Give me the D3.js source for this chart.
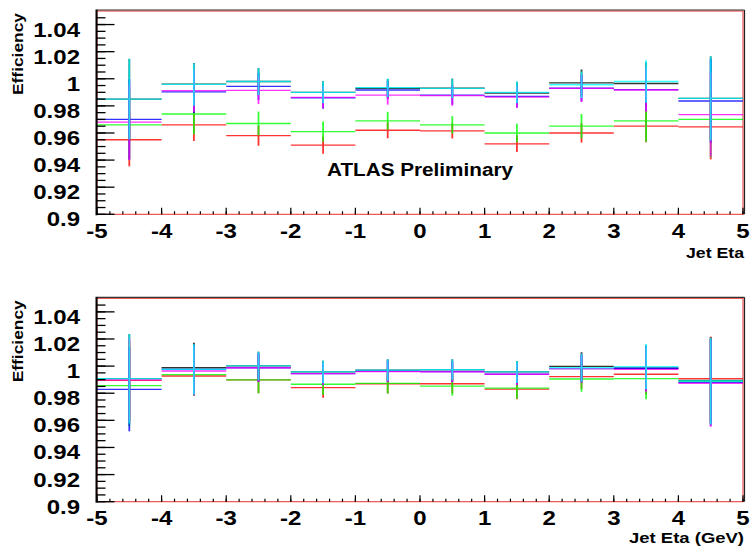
<!DOCTYPE html>
<html>
<head>
<meta charset="utf-8">
<script src="https://cdn.jsdelivr.net/npm/d3@7"></script>
<style>
html,body{margin:0;padding:0;background:#fff;}
svg{display:block;}
text{font-family:"Liberation Sans",Arial,Helvetica,sans-serif;font-weight:bold;fill:#000;}
</style>
</head>
<body>
<svg id="chart" width="750" height="550"></svg>
<script>
// ---------------- DATA ----------------
const etaEdges = [-5, -4, -3, -2, -1, 0, 1, 2, 3, 4, 5];
const xTicks = [-5, -4, -3, -2, -1, 0, 1, 2, 3, 4, 5];
const yTicks = [0.9, 0.92, 0.94, 0.96, 0.98, 1.0, 1.02, 1.04];
const yTickLabels = ["0.9", "0.92", "0.94", "0.96", "0.98", "1", "1.02", "1.04"];
const seriesNames = ["black", "red", "green", "blue", "magenta", "cyan"];
const seriesColors = ["#000000", "#ff0000", "#00ff00", "#0000ff", "#ff00ff", "#00ffff"];

// top panel: efficiencies per eta bin
const topBlack   = [0.985, 0.996, 0.998, 0.990, 0.993, 0.993, 0.9895, 0.997, 0.9965, 0.9855];
const topRed     = [0.955, 0.966, 0.958, 0.951, 0.962, 0.9615, 0.952, 0.960, 0.965, 0.9645];
const topGreen   = [0.966, 0.974, 0.967, 0.961, 0.969, 0.966, 0.960, 0.965, 0.969, 0.970];
const topBlue    = [0.970, 0.9904, 0.9944, 0.986, 0.9917, 0.988, 0.987, 0.993, 0.992, 0.9836];
const topMagenta = [0.968, 0.9912, 0.9914, 0.9863, 0.988, 0.9875, 0.9865, 0.9929, 0.9917, 0.9735];
const topCyan    = [0.985, 0.9958, 0.998, 0.990, 0.9934, 0.9929, 0.990, 0.9956, 0.998, 0.9855];
// top panel: errors
const topErrBlack   = [0.0297, 0.0157, 0.010, 0.0081, 0.0068, 0.0071, 0.0081, 0.0098, 0.0157, 0.031];
const topErrRed     = [0.0196, 0.012, 0.0074, 0.0064, 0.0059, 0.0056, 0.0061, 0.0071, 0.0118, 0.024];
const topErrGreen   = [0.025, 0.015, 0.0088, 0.0074, 0.0066, 0.0064, 0.0069, 0.009, 0.0154, 0.028];
const topErrBlue    = [0.0297, 0.0157, 0.010, 0.0081, 0.0068, 0.0071, 0.0081, 0.0098, 0.0157, 0.031];
const topErrMagenta = [0.0277, 0.0157, 0.010, 0.0078, 0.0071, 0.0074, 0.0081, 0.010, 0.016, 0.031];
const topErrCyan    = [0.0297, 0.0157, 0.010, 0.0081, 0.0068, 0.0071, 0.0081, 0.0098, 0.0157, 0.031];

// bottom panel: efficiencies per eta bin
const botBlack   = [0.9907, 0.9988, 1.0001, 0.9957, 0.9971, 0.9974, 0.9957, 0.9998, 0.9984, 0.9895];
const botRed     = [0.9895, 0.9927, 0.9898, 0.9841, 0.987, 0.987, 0.983, 0.9922, 0.994, 0.9907];
const botGreen   = [0.9856, 0.9937, 0.9898, 0.9866, 0.9872, 0.9853, 0.9838, 0.9905, 0.9907, 0.9888];
const botBlue    = [0.9829, 0.9976, 0.9988, 0.9944, 0.9962, 0.996, 0.994, 0.9981, 0.9984, 0.988];
const botMagenta = [0.9898, 0.9964, 0.9988, 0.9944, 0.9959, 0.9957, 0.994, 0.9981, 0.9976, 0.9873];
const botCyan    = [0.9907, 0.9976, 1.0001, 0.9957, 0.9971, 0.9974, 0.9957, 0.9988, 0.9996, 0.989];
// bottom panel: errors
const botErrBlack   = [0.033, 0.0185, 0.0105, 0.0083, 0.0079, 0.0076, 0.0081, 0.0104, 0.0167, 0.032];
const botErrRed     = [0.029, 0.0147, 0.0098, 0.0074, 0.0072, 0.007, 0.0075, 0.009, 0.015, 0.031];
const botErrGreen   = [0.030, 0.0157, 0.0098, 0.0078, 0.0074, 0.0071, 0.0078, 0.0094, 0.0152, 0.031];
const botErrBlue    = [0.031, 0.018, 0.0105, 0.0083, 0.0078, 0.0076, 0.008, 0.0102, 0.0165, 0.032];
const botErrMagenta = [0.031, 0.018, 0.0105, 0.0083, 0.0078, 0.0076, 0.008, 0.0102, 0.0165, 0.032];
const botErrCyan    = [0.033, 0.0185, 0.0105, 0.0083, 0.0079, 0.0076, 0.0081, 0.0104, 0.0167, 0.032];

// ---------------- DRAW ----------------
const svg = d3.select("#chart");
const STRETCH = 1.2;
function stretch(sel, f) {
  sel.each(function () {
    const w = this.getComputedTextLength();
    d3.select(this).attr("textLength", w * (f || STRETCH)).attr("lengthAdjust", "spacingAndGlyphs");
  });
}

const panels = [
  { top: 11, bottom: 214.3, xlabel: "Jet Eta", xlabelY: 258, xlabelLen: 58,
    vals: [topBlack, topRed, topGreen, topBlue, topMagenta, topCyan],
    errs: [topErrBlack, topErrRed, topErrGreen, topErrBlue, topErrMagenta, topErrCyan], atlas: true },
  { top: 298.3, bottom: 501.7, xlabel: "Jet Eta (GeV)", xlabelY: 542.5, xlabelLen: 115,
    vals: [botBlack, botRed, botGreen, botBlue, botMagenta, botCyan],
    errs: [botErrBlack, botErrRed, botErrGreen, botErrBlue, botErrMagenta, botErrCyan], atlas: false }
];

const x = d3.scaleLinear().domain([-5, 5]).range([97, 743]);

panels.forEach(p => {
  const y = d3.scaleLinear().domain([0.9, 1.05]).range([p.bottom, p.top]);
  const g = svg.append("g");

  // frame
  g.append("rect").attr("x", x(-5)).attr("y", y(1.05)).attr("width", x(5) - x(-5)).attr("height", y(0.9) - y(1.05))
    .attr("fill", "none").attr("stroke", "#e83030").attr("stroke-width", 1);
  g.append("line").attr("x1", x(-5)).attr("x2", x(5) + 1.5).attr("y1", y(1.05) - 1).attr("y2", y(1.05) - 1)
    .attr("stroke", "#333").attr("stroke-width", 1.2);
  g.append("line").attr("x1", x(5) + 1.5).attr("x2", x(5) + 1.5).attr("y1", y(1.05) - 1).attr("y2", y(0.9))
    .attr("stroke", "#222").attr("stroke-width", 1.2);

  // data: horizontal bin lines + vertical error bars
  const bins = d3.range(etaEdges.length - 1);
  seriesNames.forEach((name, si) => {
    const vals = p.vals[si], errs = p.errs[si], col = seriesColors[si];
    const sg = g.append("g").attr("class", "series-" + name).attr("stroke", col).attr("opacity", 0.8);
    sg.selectAll("line.h").data(bins).join("line").attr("class", "h")
      .attr("x1", i => x(etaEdges[i])).attr("x2", i => x(etaEdges[i + 1]))
      .attr("y1", i => y(vals[i])).attr("y2", i => y(vals[i]))
      .attr("stroke-width", 1.3);
    sg.selectAll("line.v").data(bins).join("line").attr("class", "v")
      .attr("x1", i => x((etaEdges[i] + etaEdges[i + 1]) / 2)).attr("x2", i => x((etaEdges[i] + etaEdges[i + 1]) / 2))
      .attr("y1", i => y(vals[i] + errs[i])).attr("y2", i => y(vals[i] - errs[i]))
      .attr("stroke-width", 1.8);
  });

  // y axis line
  g.append("line").attr("x1", x(-5) - 0.5).attr("x2", x(-5) - 0.5).attr("y1", y(1.05) - 1.5).attr("y2", y(0.9) + 1)
    .attr("stroke", "#000").attr("stroke-width", 2);

  // y ticks (major & minor) pointing inward
  const yMinor = d3.range(0, 31).map(k => 0.9 + k * 0.005).filter(v => v < 1.0499);
  g.selectAll("line.ymin").data(yMinor).join("line").attr("class", "ymin")
    .attr("x1", x(-5)).attr("x2", x(-5) + 8.5).attr("y1", d => y(d)).attr("y2", d => y(d))
    .attr("stroke", "#000").attr("stroke-width", 1.3);
  g.selectAll("line.ymaj").data(yTicks).join("line").attr("class", "ymaj")
    .attr("x1", x(-5)).attr("x2", x(-5) + 17.5).attr("y1", d => y(d)).attr("y2", d => y(d))
    .attr("stroke", "#000").attr("stroke-width", 1.3);
  g.selectAll("text.ylab").data(yTicks).join("text").attr("class", "ylab")
    .attr("x", 80).attr("y", d => y(d) + 12).attr("text-anchor", "end").attr("font-size", 20)
    .text((d, i) => yTickLabels[i]).call(stretch);

  // x ticks pointing up
  const xMinor = d3.range(0, 51).map(k => -5 + k * 0.2);
  g.selectAll("line.xmin").data(xMinor).join("line").attr("class", "xmin")
    .attr("x1", d => x(d)).attr("x2", d => x(d)).attr("y1", y(0.9)).attr("y2", y(0.9) - 3)
    .attr("stroke", "#000").attr("stroke-width", 1.2);
  g.selectAll("line.xmaj").data(xTicks).join("line").attr("class", "xmaj")
    .attr("x1", d => x(d)).attr("x2", d => x(d)).attr("y1", y(0.9)).attr("y2", y(0.9) - 6.5)
    .attr("stroke", "#000").attr("stroke-width", 1.2);
  g.selectAll("text.xlab").data(xTicks).join("text").attr("class", "xlab")
    .attr("x", d => x(d)).attr("y", y(0.9) + 23.5).attr("text-anchor", "middle").attr("font-size", 20)
    .text(d => String(d)).call(stretch);

  // axis titles
  g.append("text").attr("x", 744).attr("y", p.xlabelY).attr("text-anchor", "end").attr("font-size", 14.5)
    .attr("textLength", p.xlabelLen).attr("lengthAdjust", "spacingAndGlyphs").text(p.xlabel);
  g.append("text").attr("transform", `translate(23,${p.top + 2}) rotate(-90)`).attr("text-anchor", "end")
    .attr("font-size", 14).attr("textLength", 82).attr("lengthAdjust", "spacingAndGlyphs").text("Efficiency");

  if (p.atlas) {
    g.append("text").attr("x", 327).attr("y", 175.5).attr("font-size", 18)
      .attr("textLength", 186).attr("lengthAdjust", "spacingAndGlyphs").text("ATLAS Preliminary");
  }
});
</script>
</body>
</html>
